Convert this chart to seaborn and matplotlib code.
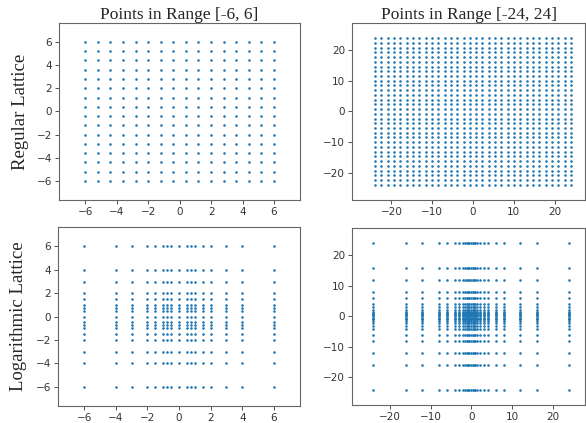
import numpy as np
import pandas as pd
import matplotlib
matplotlib.use("Agg")
import matplotlib.pyplot as plt
import seaborn as sns
from matplotlib.ticker import MultipleLocator


# lattice coordinates (same values on x and y)
regular_small = [-6.0, -5.2, -4.4, -3.6, -2.8, -2.0, -1.2, -0.4,
                 0.4, 1.2, 2.0, 2.8, 3.6, 4.4, 5.2, 6.0]
regular_large = [-24.00, -22.45, -20.90, -19.35, -17.81, -16.26, -14.71, -13.16,
                 -11.61, -10.06, -8.52, -6.97, -5.42, -3.87, -2.32, -0.77,
                 0.77, 2.32, 3.87, 5.42, 6.97, 8.52, 10.06, 11.61,
                 13.16, 14.71, 16.26, 17.81, 19.35, 20.90, 22.45, 24.00]
log_small = [-6, -4, -3, -2, -1.5, -1, -0.75, -0.5, 0,
             0.5, 0.75, 1, 1.5, 2, 3, 4, 6]
log_large = [-24, -16, -12, -8, -6, -4, -3, -2, -1.5, -1, -0.75, -0.5, 0,
             0.5, 0.75, 1, 1.5, 2, 3, 4, 6, 8, 12, 16, 24]

col_titles = ["Points in Range [-6, 6]", "Points in Range [-24, 24]"]
row_labels = ["Regular Lattice", "Logarithmic Lattice"]


def grid(vals):
    xx, yy = np.meshgrid(vals, vals)
    return pd.DataFrame({"x": xx.ravel(), "y": yy.ravel()})


sns.set_style("ticks")
plt.rcParams["font.family"] = ["DejaVu Sans"]
plt.rcParams["axes.edgecolor"] = "#666666"
plt.rcParams["xtick.color"] = "#333333"
plt.rcParams["ytick.color"] = "#333333"
plt.rcParams["xtick.labelsize"] = 7.5
plt.rcParams["ytick.labelsize"] = 7.5

fig = plt.figure(figsize=(5.86, 4.23), dpi=100)

positions = [
    [0.101, 0.527, 0.411, 0.419],
    [0.601, 0.527, 0.397, 0.419],
    [0.099, 0.040, 0.413, 0.423],
    [0.601, 0.043, 0.397, 0.418],
]
lattices = [regular_small, regular_large, log_small, log_large]
xlims = [(-7.65, 7.65), (-29.6, 27.4), (-7.65, 7.65), (-29.2, 27.8)]
ylims = [(-7.65, 7.65), (-29.0, 29.0), (-7.65, 7.65), (-29.0, 29.0)]
steps = [2, 10, 2, 10]

for i, pos in enumerate(positions):
    ax = fig.add_axes(pos)
    sns.scatterplot(data=grid(lattices[i]), x="x", y="y", ax=ax,
                    s=3.5, color="#1f77b4", linewidth=0)
    ax.set_xlim(*xlims[i])
    ax.set_ylim(*ylims[i])
    ax.xaxis.set_major_locator(MultipleLocator(steps[i]))
    ax.yaxis.set_major_locator(MultipleLocator(steps[i]))
    ax.set_xlabel("")
    ax.set_ylabel("")
    ax.tick_params(length=3, width=0.6, pad=2)
    for sp in ax.spines.values():
        sp.set_linewidth(0.8)
    if i < 2:
        ax.set_title(col_titles[i], family="Liberation Serif",
                     fontsize=12.5, pad=2)
    if i % 2 == 0:
        ax.set_ylabel(row_labels[i // 2], family="Liberation Serif",
                      fontsize=13.5, labelpad=6)

fig.savefig("out.png", dpi=100)
